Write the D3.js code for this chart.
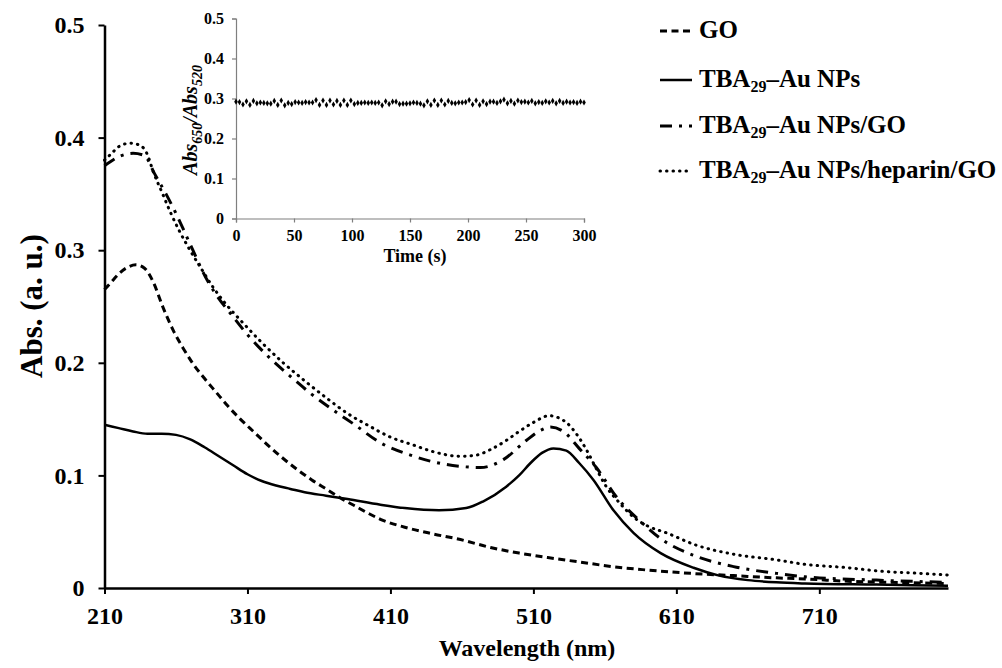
<!DOCTYPE html>
<html>
<head>
<meta charset="utf-8">
<script src="https://cdn.jsdelivr.net/npm/d3@7/dist/d3.min.js"></script>
<style>
  html, body { margin: 0; padding: 0; background: #fff; }
</style>
</head>
<body>
<svg id="chart" width="1002" height="668"></svg>
<script>
// UV-vis absorption spectra, wavelength (nm) vs absorbance (a. u.)
const goSpectrum = [
  [210,0.265],[215,0.272],[220,0.279],[225,0.284],[232,0.287],[238,0.284],[244,0.272],[251,0.249],
  [258,0.229],[265,0.213],[272,0.199],[280,0.186],[288,0.174],[296,0.162],[305,0.150],[315,0.138],
  [325,0.126],[335,0.115],[345,0.105],[355,0.096],[365,0.088],[375,0.080],[385,0.073],[395,0.066],
  [403,0.061],[420,0.054],[440,0.048],[459,0.043],[480,0.036],[500,0.031],[520,0.027],[543,0.023],
  [565,0.019],[589,0.016],[620,0.013],[650,0.011],[680,0.009],[700,0.008],[730,0.006],[760,0.005],[800,0.004]
];
const auSpectrum = [
  [210,0.145],[220,0.142],[230,0.139],[240,0.137],[250,0.137],[260,0.136],[270,0.132],[280,0.125],
  [290,0.117],[300,0.109],[310,0.101],[320,0.095],[330,0.091],[340,0.088],[350,0.085],[365,0.082],
  [380,0.079],[403,0.074],[420,0.071],[444,0.069],[463,0.071],[475,0.077],[491,0.090],[500,0.100],
  [508,0.111],[516,0.120],[524,0.124],[533,0.122],[542,0.111],[552,0.096],[566,0.069],[580,0.049],
  [599,0.031],[622,0.018],[640,0.011],[660,0.007],[680,0.005],[700,0.004],[750,0.003],[800,0.002]
];
const auGoSpectrum = [
  [210,0.375],[220,0.383],[230,0.386],[238,0.384],[245,0.368],[253,0.350],[261,0.330],[270,0.305],
  [282,0.273],[290,0.257],[298,0.244],[310,0.225],[325,0.205],[340,0.188],[355,0.172],[370,0.158],
  [385,0.145],[403,0.129],[424,0.118],[440,0.112],[459,0.108],[473,0.107],[489,0.114],[505,0.131],
  [515,0.140],[522,0.143],[531,0.139],[542,0.124],[554,0.107],[568,0.081],[585,0.059],[600,0.043],
  [622,0.029],[650,0.019],[680,0.013],[700,0.010],[750,0.007],[800,0.005]
];
const auHeparinGoSpectrum = [
  [210,0.380],[215,0.386],[220,0.392],[228,0.395],[235,0.393],[240,0.385],[244,0.370],[250,0.352],
  [256,0.334],[262,0.318],[268,0.304],[277,0.285],[286,0.267],[295,0.252],[305,0.238],[320,0.218],
  [335,0.200],[350,0.184],[365,0.169],[380,0.155],[395,0.144],[410,0.134],[426,0.127],[440,0.121],
  [459,0.117],[470,0.118],[480,0.123],[491,0.131],[500,0.139],[510,0.147],[521,0.153],[533,0.147],
  [540,0.137],[547,0.123],[554,0.106],[561,0.090],[570,0.076],[580,0.063],[590,0.055],[603,0.049],
  [624,0.038],[650,0.030],[680,0.025],[700,0.021],[730,0.018],[752,0.015],[780,0.013],[800,0.0115]
];

const wavelengthTicks = [210, 310, 410, 510, 610, 710];
const absTicks = [0, 0.1, 0.2, 0.3, 0.4, 0.5];

// Inset: Abs650/Abs520 ratio sampled every 3 s over 300 s
const insetStep = 3;
const insetRatio = [
  0.292,0.291,0.285,0.293,0.284,0.294,0.288,0.290,0.289,0.288,
  0.287,0.294,0.284,0.295,0.283,0.289,0.286,0.291,0.290,0.289,
  0.291,0.290,0.290,0.296,0.284,0.295,0.284,0.295,0.285,0.294,
  0.284,0.295,0.284,0.295,0.286,0.289,0.289,0.290,0.289,0.290,
  0.289,0.290,0.283,0.293,0.286,0.292,0.292,0.286,0.287,0.287,
  0.288,0.290,0.289,0.287,0.283,0.293,0.284,0.295,0.284,0.295,
  0.285,0.294,0.289,0.288,0.290,0.290,0.291,0.296,0.285,0.295,
  0.284,0.293,0.286,0.292,0.292,0.289,0.293,0.297,0.288,0.294,
  0.287,0.295,0.291,0.292,0.290,0.294,0.288,0.291,0.289,0.293,
  0.290,0.294,0.288,0.294,0.289,0.292,0.290,0.291,0.289,0.292,
  0.290
];
const timeTicks = [0, 50, 100, 150, 200, 250, 300];
const ratioTicks = [0, 0.1, 0.2, 0.3, 0.4, 0.5];

const legendLabels = [
  { main: "GO" },
  { pre: "TBA", sub: "29", post: "\u2013Au NPs" },
  { pre: "TBA", sub: "29", post: "\u2013Au NPs/GO" },
  { pre: "TBA", sub: "29", post: "\u2013Au NPs/heparin/GO" }
];

const FONT = "'Liberation Serif', 'Times New Roman', Times, serif";

const svg = d3.select("#chart")
  .attr("font-family", FONT)
  .attr("font-weight", "bold");

// ---------- main panel ----------
const x = d3.scaleLinear().domain([210, 800]).range([104.5, 948]);
const y = d3.scaleLinear().domain([0, 0.5]).range([588, 25]);

const styles = [
  { data: goSpectrum,            width: 3,   dash: "7,4.5",      cap: "butt" },
  { data: auSpectrum,            width: 2.5, dash: null,         cap: "butt" },
  { data: auGoSpectrum,          width: 3,   dash: "12,7,3,7",   cap: "butt" },
  { data: auHeparinGoSpectrum,   width: 3,   dash: "0.5,6",      cap: "round" }
];

const line = d3.line()
  .x(d => x(d[0]))
  .y(d => y(d[1]))
  .curve(d3.curveMonotoneX);

const plot = svg.append("g");
styles.forEach(s => {
  plot.append("path")
    .datum(s.data)
    .attr("fill", "none")
    .attr("stroke", "#000")
    .attr("stroke-width", s.width)
    .attr("stroke-dasharray", s.dash)
    .attr("stroke-linecap", s.cap)
    .attr("d", line);
});

function styleAxisText(g, size) {
  g.attr("font-family", FONT).attr("font-weight", "bold");
  g.selectAll(".tick text").attr("font-size", size).attr("fill", "#000");
}

const xAxis = svg.append("g")
  .attr("transform", `translate(0,${y(0)})`)
  .call(d3.axisBottom(x).tickValues(wavelengthTicks).tickSize(6).tickSizeOuter(0).tickFormat(d3.format("d")));
styleAxisText(xAxis, 24);
xAxis.select(".domain").attr("stroke", "#000").attr("stroke-width", 2.5);
xAxis.selectAll(".tick line").attr("stroke", "#000").attr("stroke-width", 2);
xAxis.selectAll(".tick text").attr("dy", "0.9em").attr("y", 14);

const yAxis = svg.append("g")
  .attr("transform", `translate(${x(210)},0)`)
  .call(d3.axisLeft(y).tickValues(absTicks).tickSize(6).tickSizeOuter(0).tickFormat(d => d === 0 ? "0" : d3.format(".1f")(d)));
styleAxisText(yAxis, 24);
yAxis.select(".domain").attr("stroke", "#000").attr("stroke-width", 2.5);
yAxis.selectAll(".tick line").attr("stroke", "#000").attr("stroke-width", 2);
yAxis.selectAll(".tick text").attr("x", -20);

svg.append("text")
  .attr("x", 527).attr("y", 656)
  .attr("text-anchor", "middle")
  .attr("font-size", 24)
  .text("Wavelength (nm)");

svg.append("text")
  .attr("transform", "translate(42,306) rotate(-90)")
  .attr("text-anchor", "middle")
  .attr("font-size", 31)
  .text("Abs. (a. u.)");

// ---------- legend ----------
const legend = svg.append("g");
const legendBase = [38, 87, 133, 178];
legendLabels.forEach((lab, i) => {
  const s = styles[i];
  const ly = legendBase[i] - 7;
  legend.append("line")
    .attr("x1", 660).attr("x2", 692)
    .attr("y1", ly).attr("y2", ly)
    .attr("stroke", "#000")
    .attr("stroke-width", s.width)
    .attr("stroke-dasharray", s.dash)
    .attr("stroke-linecap", s.cap);
  const t = legend.append("text")
    .attr("x", 699).attr("y", legendBase[i])
    .attr("font-size", 25);
  if (lab.main) {
    t.text(lab.main);
  } else {
    t.append("tspan").text(lab.pre);
    t.append("tspan").attr("font-size", 16).attr("dy", 5).text(lab.sub);
    t.append("tspan").attr("dy", -5).text(lab.post);
  }
});

// ---------- inset ----------
const ix = d3.scaleLinear().domain([0, 300]).range([236, 584]);
const iy = d3.scaleLinear().domain([0, 0.5]).range([218.5, 18.5]);
const inset = svg.append("g");
const insetGray = "#7f7f7f";

const ixAxis = inset.append("g")
  .attr("transform", `translate(0,${iy(0)})`)
  .call(d3.axisBottom(ix).tickValues(timeTicks).tickSize(4).tickSizeOuter(4));
styleAxisText(ixAxis, 16);
ixAxis.select(".domain").attr("stroke", insetGray).attr("stroke-width", 1.2);
ixAxis.selectAll(".tick line").attr("stroke", insetGray).attr("stroke-width", 1.2);
ixAxis.selectAll(".tick text").attr("y", 9).attr("dy", "0.85em");

const iyAxis = inset.append("g")
  .attr("transform", `translate(${ix(0)},0)`)
  .call(d3.axisLeft(iy).tickValues(ratioTicks).tickSize(4).tickSizeOuter(4)
    .tickFormat(d => d === 0 ? "0" : d3.format(".1f")(d)));
styleAxisText(iyAxis, 16);
iyAxis.select(".domain").attr("stroke", insetGray).attr("stroke-width", 1.2);
iyAxis.selectAll(".tick line").attr("stroke", insetGray).attr("stroke-width", 1.2);
iyAxis.selectAll(".tick text").attr("x", -12);

const diamond = d3.symbol().type(d3.symbolDiamond).size(11);
inset.append("g")
  .selectAll("path")
  .data(insetRatio)
  .join("path")
  .attr("transform", (d, i) => `translate(${ix(i * insetStep)},${iy(d)})`)
  .attr("d", diamond)
  .attr("fill", "#000");

inset.append("text")
  .attr("x", 415).attr("y", 262)
  .attr("text-anchor", "middle")
  .attr("font-size", 18)
  .text("Time (s)");

const ititle = inset.append("text")
  .attr("transform", "translate(197,120) rotate(-90)")
  .attr("text-anchor", "middle")
  .attr("font-size", 20)
  .attr("font-style", "italic");
ititle.append("tspan").text("Abs");
ititle.append("tspan").attr("font-size", 14).attr("dy", 5).text("650");
ititle.append("tspan").attr("dy", -5).text("/Abs");
ititle.append("tspan").attr("font-size", 14).attr("dy", 5).text("520");
</script>
</body>
</html>
